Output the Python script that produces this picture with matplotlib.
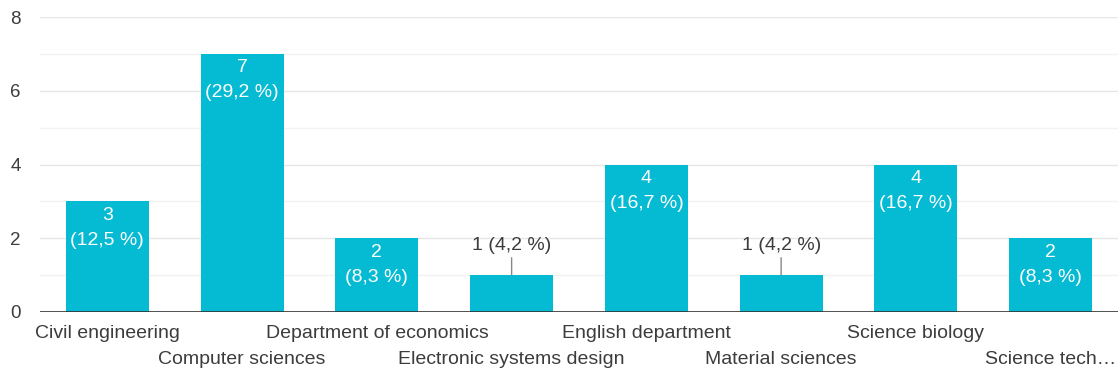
import matplotlib
matplotlib.use("Agg")
import matplotlib.pyplot as plt
from matplotlib.ticker import MultipleLocator

plt.rcParams['font.family'] = ['Liberation Sans', 'DejaVu Sans']

categories = ["Civil engineering", "Computer sciences", "Department of economics",
              "Electronic systems design", "English department", "Material sciences",
              "Science biology", "Science tech…"]
counts = [3, 7, 2, 1, 4, 1, 4, 2]
percents = ["12,5", "29,2", "8,3", "4,2", "16,7", "4,2", "16,7", "8,3"]
y_ticks = [0, 2, 4, 6, 8]

bar_color = "#04BBD3"
text_color = "#3c3c3c"

fig = plt.figure(figsize=(11.18, 3.76), dpi=100)
ax = fig.add_axes([40 / 1118, 64 / 376, 1078 / 1118, 295 / 376])

x = list(range(len(categories)))
ax.bar(x, counts, width=83 / 135, color=bar_color, zorder=3)

ax.set_xlim(-0.5, len(categories) - 0.5)
ax.set_ylim(0, 8)
ax.set_yticks(y_ticks)
ax.yaxis.set_minor_locator(MultipleLocator(1))
ax.grid(axis='y', which='major', color='#e6e6e6', linewidth=1, zorder=0)
ax.grid(axis='y', which='minor', color='#f2f2f2', linewidth=1, zorder=0)
ax.axhline(0, color='#333333', linewidth=1.2, zorder=4)

for s in ax.spines.values():
    s.set_visible(False)

ax.tick_params(axis='y', which='both', length=0, pad=14, labelsize=13.5,
               labelcolor=text_color)
ax.set_xticks([])

# category labels in two staggered rows below the baseline
for i, c in enumerate(categories):
    dy = -21 if i % 2 == 0 else -48
    ax.annotate(c, xy=(i, 0), xycoords=('data', 'axes fraction'),
                xytext=(0, dy), textcoords='offset pixels',
                ha='center', va='center', fontsize=14, color=text_color,
                annotation_clip=False)

for xi, v, p in zip(x, counts, percents):
    if v >= 2:
        ax.annotate(f"{v}", xy=(xi, v), xytext=(0, -14),
                    textcoords='offset pixels', ha='center', va='center',
                    color='white', fontsize=14, zorder=5)
        ax.annotate(f"({p} %)", xy=(xi, v), xytext=(0, -39),
                    textcoords='offset pixels', ha='center', va='center',
                    color='white', fontsize=14, zorder=5)
    else:
        ax.annotate(f"{v} ({p} %)", xy=(xi, v), xytext=(0, 30),
                    textcoords='offset pixels', ha='center', va='center',
                    color=text_color, fontsize=14, zorder=5,
                    arrowprops=dict(arrowstyle='-', color='#888888', lw=1,
                                    shrinkA=1, shrinkB=0))

fig.savefig("out.png", dpi=100)
